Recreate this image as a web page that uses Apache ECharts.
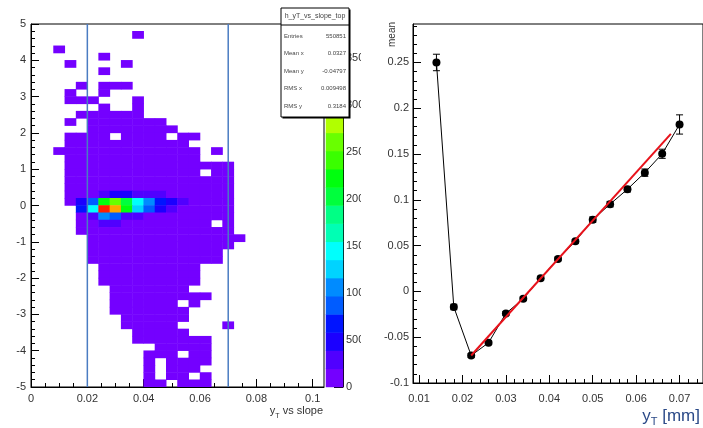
<!DOCTYPE html>
<html>
<head>
<meta charset="utf-8">
<script src="https://cdn.jsdelivr.net/npm/echarts@6/dist/echarts.min.js"></script>
<style>
  html, body { margin: 0; padding: 0; background: #fff; }
  #main { width: 703px; height: 428px; }
</style>
</head>
<body>
<div id="main"></div>
<script>
// ---------- left panel: h_yT_vs_slope_top (2D histogram) ----------
var xBinWidth = 0.004;   // 26 bins from 0 to 0.104
var yBinWidth = 0.2;     // 50 bins from 5 down to -5, row 0 is the top row
var yTop = 5;
var lowCount = 60;       // typical content of a filled bin in the lowest colour band

// filled bins per row, as [first, last] x-bin index runs
var filledRuns = [
  [],                         //  4.8 ..  5.0
  [[9, 9]],
  [],
  [[2, 2]],
  [[6, 6]],
  [[3, 3], [8, 8]],
  [[6, 6]],
  [],
  [[4, 4], [6, 8]],
  [[3, 3], [6, 6]],
  [[3, 5], [9, 9]],           //  2.8 ..  3.0
  [[6, 6], [9, 9]],
  [[4, 9]],
  [[3, 3], [5, 11]],
  [[5, 12]],
  [[3, 6], [8, 11], [13, 14]],
  [[3, 13]],
  [[2, 14], [16, 16]],
  [[3, 14]],
  [[3, 17]],
  [[3, 14], [16, 17]],        //  0.8 ..  1.0
  [[3, 17]],
  [[3, 17]],
  [[3, 17]],
  [[3, 17]],
  [[4, 17]],                  // -0.2 ..  0
  [[4, 17]],
  [[4, 15], [17, 17]],
  [[4, 17]],
  [[5, 18]],
  [[5, 17]],                  // -1.2 .. -1.0
  [[5, 16]],
  [[5, 16]],
  [[6, 14]],
  [[6, 14]],
  [[6, 14]],
  [[7, 13]],
  [[7, 15]],
  [[7, 12], [14, 14]],
  [[7, 13]],
  [[8, 13]],                  // -3.2 .. -3.0
  [[8, 12], [17, 17]],
  [[9, 13]],
  [[9, 15]],
  [[11, 15]],
  [[10, 12], [14, 15]],
  [[10, 10], [12, 15]],
  [[10, 10], [12, 14]],
  [[10, 10], [12, 13], [15, 15]],
  [[10, 11], [13, 15]]        // -5.0 .. -4.8
];

// bins with higher contents: [x-bin, row, count]
var hotBins = [
  [6, 23, 290], [7, 23, 480], [8, 23, 480], [9, 23, 290], [10, 23, 290], [11, 23, 290],
  [4, 24, 480], [5, 24, 870], [6, 24, 2220], [7, 24, 2600], [8, 24, 2030], [9, 24, 1450],
  [10, 24, 1060], [11, 24, 680], [12, 24, 480], [13, 24, 290],
  [4, 25, 680], [5, 25, 1450], [6, 25, 3760], [7, 25, 3380], [8, 25, 2220], [9, 25, 1250],
  [10, 25, 870], [11, 25, 480], [12, 25, 290],
  [5, 26, 290], [6, 26, 1060], [7, 26, 870], [8, 26, 290], [9, 26, 290],
  [6, 27, 290], [7, 27, 290]
];

var zMax = 3860;
var paletteColors = [
  '#7400ff', '#5000ff', '#1b00ff', '#0014ff', '#005cff',
  '#008bff', '#00d3ff', '#00fffc', '#00ffb4', '#00ff85',
  '#00ff3d', '#00ff0e', '#3aff00', '#69ff00', '#b1ff00',
  '#e0ff00', '#ffd600', '#ffa700', '#ff5f00', '#ff2000'
];
var cutLines = [0.02, 0.07];

var leftXTicks = [0, 0.02, 0.04, 0.06, 0.08, 0.1];
var leftYTicks = [-5, -4, -3, -2, -1, 0, 1, 2, 3, 4, 5];
var zTicks = [0, 500, 1000, 1500, 2000, 2500, 3000, 3500];

var statsTitle = 'h_yT_vs_slope_top';
var statsLabels = ['Entries', 'Mean x', 'Mean y', 'RMS x', 'RMS y'];
var statsValues = ['550851', '0.0327', '-0.04797', '0.009498', '0.3184'];

// ---------- right panel: mean vs y_T ----------
var yT = [0.014, 0.018, 0.022, 0.026, 0.030, 0.034, 0.038, 0.042, 0.046, 0.050,
          0.054, 0.058, 0.062, 0.066, 0.070];
var meanVals = [0.250, -0.017, -0.070, -0.056, -0.024, -0.008, 0.0145, 0.0355, 0.0547, 0.0783,
                0.0953, 0.1116, 0.1297, 0.1503, 0.1823];
var meanErr = [0.009, 0.003, 0.002, 0.002, 0.002, 0.002, 0.002, 0.002, 0.002, 0.003,
               0.003, 0.003, 0.004, 0.005, 0.0105];
var fitX = [0.022, 0.068];
var fitY = [-0.070, 0.172];

var rightXTicks = [0.01, 0.02, 0.03, 0.04, 0.05, 0.06, 0.07];
var rightYTicks = [-0.1, -0.05, 0, 0.05, 0.1, 0.15, 0.2, 0.25];

// ------------------------------------------------------------------
var FONT = 'Liberation Sans';
var nBands = paletteColors.length;

function bandColor(v) {
  var b = Math.floor(v / zMax * nBands);
  if (b > nBands - 1) b = nBands - 1;
  return paletteColors[b];
}
function steps(a, b, s) {
  var out = [];
  for (var i = 0; a + i * s <= b + 1e-9; i++) out.push(+(a + i * s).toFixed(6));
  return out;
}
function fmt(v) { return String(parseFloat((+v).toFixed(4))); }

var hotMap = {};
hotBins.forEach(function (h) { hotMap[h[0] + ',' + h[1]] = h[2]; });
var heatData = [];
filledRuns.forEach(function (runs, j) {
  var y1 = +(yTop - j * yBinWidth).toFixed(4);
  var y0 = +(y1 - yBinWidth).toFixed(4);
  runs.forEach(function (r) {
    for (var k = r[0]; k <= r[1]; k++) {
      var c = hotMap[k + ',' + j] || lowCount;
      heatData.push([+(k * xBinWidth).toFixed(4), +((k + 1) * xBinWidth).toFixed(4), y0, y1, c]);
    }
  });
});

var barData = paletteColors.map(function (c, b) {
  return [0, 1, b * zMax / nBands, (b + 1) * zMax / nBands, b];
});

var meanData = yT.map(function (x, i) { return [x, meanVals[i]]; });
var errData = yT.map(function (x, i) { return [x, meanVals[i] - meanErr[i], meanVals[i] + meanErr[i]]; });
var fitData = fitX.map(function (x, i) { return [x, fitY[i]]; });

function rectItem(params, api, color) {
  var p0 = api.coord([api.value(0), api.value(3)]);
  var p1 = api.coord([api.value(1), api.value(2)]);
  return {
    type: 'rect',
    shape: { x: p0[0] - 0.25, y: p0[1] - 0.25, width: p1[0] - p0[0] + 0.5, height: p1[1] - p0[1] + 0.5 },
    style: { fill: color }
  };
}

function majorAxis(grid, min, max, ticks, pos, extra) {
  var o = {
    gridIndex: grid, type: 'value', min: min, max: max, position: pos,
    axisLine: { show: true, onZero: false, lineStyle: { color: '#000', width: 1 } },
    axisTick: { show: true, inside: true, length: 8, customValues: ticks, lineStyle: { color: '#000' } },
    axisLabel: { customValues: ticks, formatter: fmt, fontSize: 11, color: '#333', fontFamily: FONT },
    splitLine: { show: false }
  };
  for (var key in extra) o[key] = extra[key];
  return o;
}
function minorAxis(grid, min, max, ticks, pos, extra) {
  var o = {
    gridIndex: grid, type: 'value', min: min, max: max, position: pos,
    axisLine: { show: false, onZero: false },
    axisTick: { show: true, inside: true, length: 4, customValues: ticks, lineStyle: { color: '#000' } },
    axisLabel: { show: false },
    splitLine: { show: false }
  };
  for (var key in extra) o[key] = extra[key];
  return o;
}

var leftX = majorAxis(0, 0, 0.104, leftXTicks, 'bottom', {});
leftX.axisLabel.margin = 6;
var leftY = majorAxis(0, -5, 5, leftYTicks, 'left', {});
leftY.axisLabel.margin = 5;
var zAxis = majorAxis(1, 0, zMax, zTicks, 'right', {});
zAxis.axisTick.length = 9;
zAxis.axisLabel.margin = 3;
zAxis.axisLabel.formatter = function (v) { return String(v); };
var rightX = majorAxis(2, 0.0086, 0.0754, rightXTicks, 'bottom', { z: 5 });
rightX.axisLabel.margin = 10;
var rightY = majorAxis(2, -0.1, 0.292, rightYTicks, 'left', { z: 5 });
rightY.axisLabel.margin = 4;

var subRich = function (size, small, color) {
  return {
    m: { fontSize: size, fontFamily: FONT, fill: color, lineHeight: size + 6, verticalAlign: 'middle' },
    s: { fontSize: small, fontFamily: FONT, fill: color, lineHeight: size + 6, verticalAlign: 'bottom' }
  };
};

var graphics = [
  // right pad starts here; hides the overflowing colour-axis labels
  { type: 'rect', z: 1, shape: { x: 361, y: 0, width: 342, height: 428 }, style: { fill: '#fff' } },
  { type: 'text', z: 9, x: 323, y: 411,
    style: { text: '{m|y}{s|T}{m| vs slope}', align: 'right', verticalAlign: 'middle', rich: subRich(11, 7, '#333') } },
  { type: 'text', z: 9, x: 700, y: 416,
    style: { text: '{m|y}{s|T}{m| [mm]}', align: 'right', verticalAlign: 'middle', rich: subRich(17, 11, '#2b4a88') } },
  { type: 'text', z: 9, x: 392, y: 22, rotation: Math.PI / 2,
    style: { text: 'mean', align: 'right', verticalAlign: 'middle', fontSize: 10, fontFamily: FONT, fill: '#333' } },
  // stats box
  { type: 'rect', z: 10, shape: { x: 282.5, y: 9.5, width: 68, height: 109 }, style: { fill: '#000' } },
  { type: 'rect', z: 10, shape: { x: 281, y: 8, width: 68, height: 109 }, style: { fill: '#fff', stroke: '#000', lineWidth: 1 } },
  { type: 'line', z: 10, shape: { x1: 281, y1: 25, x2: 349, y2: 25 }, style: { stroke: '#000', lineWidth: 1 } },
  { type: 'text', z: 11, x: 315, y: 16.5,
    style: { text: statsTitle, align: 'center', verticalAlign: 'middle', fontSize: 7, fontFamily: FONT, fill: '#444' } }
];
statsLabels.forEach(function (lab, i) {
  graphics.push({ type: 'text', z: 11, x: 284, y: 36 + i * 17.5,
    style: { text: lab, align: 'left', verticalAlign: 'middle', fontSize: 6, fontFamily: FONT, fill: '#444' } });
  graphics.push({ type: 'text', z: 11, x: 346, y: 36 + i * 17.5,
    style: { text: statsValues[i], align: 'right', verticalAlign: 'middle', fontSize: 6, fontFamily: FONT, fill: '#444' } });
});

var chart = echarts.init(document.getElementById('main'));
var option = {
  animation: false,
  backgroundColor: '#fff',
  grid: [
    { left: 31, top: 24, width: 293, height: 363, show: true, borderColor: '#000', borderWidth: 1, backgroundColor: 'transparent' },
    { left: 326, top: 24, width: 17, height: 363, show: false },
    { left: 413, top: 24, width: 293, height: 359, show: true, borderColor: '#000', borderWidth: 1, backgroundColor: 'transparent', z: 5 }
  ],
  xAxis: [
    leftX,
    minorAxis(0, 0, 0.104, steps(0, 0.1, 0.005), 'bottom', {}),
    { gridIndex: 1, type: 'value', min: 0, max: 1, show: false },
    rightX,
    minorAxis(2, 0.0086, 0.0754, steps(0.01, 0.074, 0.002), 'bottom', { z: 5 })
  ],
  yAxis: [
    leftY,
    minorAxis(0, -5, 5, steps(-5, 5, 0.2), 'left', {}),
    zAxis,
    rightY,
    minorAxis(2, -0.1, 0.292, steps(-0.1, 0.29, 0.01), 'left', { z: 5 })
  ],
  graphic: { elements: graphics },
  series: [
    {
      type: 'custom', xAxisIndex: 0, yAxisIndex: 0, clip: true, z: 2,
      data: heatData,
      encode: { x: [0, 1], y: [2, 3] },
      renderItem: function (params, api) { return rectItem(params, api, bandColor(api.value(4))); }
    },
    {
      type: 'custom', xAxisIndex: 0, yAxisIndex: 0, z: 3,
      data: cutLines.map(function (v) { return [v]; }),
      encode: { x: 0 },
      renderItem: function (params, api) {
        var a = api.coord([api.value(0), -5]);
        var b = api.coord([api.value(0), 5]);
        return { type: 'line', shape: { x1: a[0], y1: a[1], x2: b[0], y2: b[1] },
                 style: { stroke: '#4a7cc2', lineWidth: 1.5 } };
      }
    },
    {
      type: 'custom', xAxisIndex: 2, yAxisIndex: 2, z: 2,
      data: barData,
      encode: { x: [0, 1], y: [2, 3] },
      renderItem: function (params, api) { return rectItem(params, api, paletteColors[api.value(4)]); }
    },
    {
      type: 'custom', xAxisIndex: 3, yAxisIndex: 3, z: 6,
      data: errData,
      encode: { x: 0, y: [1, 2] },
      renderItem: function (params, api) {
        var lo = api.coord([api.value(0), api.value(1)]);
        var hi = api.coord([api.value(0), api.value(2)]);
        var st = { stroke: '#000', lineWidth: 1 };
        return { type: 'group', children: [
          { type: 'line', shape: { x1: lo[0], y1: lo[1], x2: hi[0], y2: hi[1] }, style: st },
          { type: 'line', shape: { x1: lo[0] - 3.5, y1: lo[1], x2: lo[0] + 3.5, y2: lo[1] }, style: st },
          { type: 'line', shape: { x1: hi[0] - 3.5, y1: hi[1], x2: hi[0] + 3.5, y2: hi[1] }, style: st }
        ] };
      }
    },
    {
      type: 'line', xAxisIndex: 3, yAxisIndex: 3, z: 7,
      data: meanData,
      symbol: 'circle', symbolSize: 8,
      itemStyle: { color: '#000' },
      lineStyle: { color: '#000', width: 1 }
    },
    {
      type: 'line', xAxisIndex: 3, yAxisIndex: 3, z: 8,
      data: fitData, symbol: 'none',
      lineStyle: { color: '#e8121b', width: 2 }
    }
  ]
};
chart.setOption(option);
</script>
</body>
</html>
